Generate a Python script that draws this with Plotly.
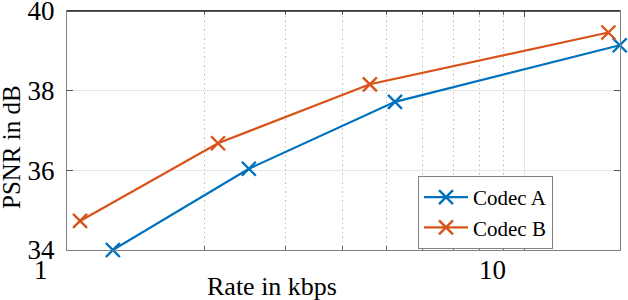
import math
import plotly.graph_objects as go

# ---- data ----
series_names = ["Codec A", "Codec B"]
codec_a_rate = [1.26, 2.50, 5.22, 16.2]
codec_a_psnr = [34.0, 36.04, 37.72, 39.14]
codec_b_rate = [1.068, 2.14, 4.60, 15.3]
codec_b_psnr = [34.73, 36.68, 38.16, 39.46]
y_ticks = [34, 36, 38, 40]
x_major_ticks = [1, 10]
x_minor_ticks = [2, 3, 4, 5, 6, 7, 8, 9]
x_tick_labels = ["1", "10"]
x_title = "Rate in kbps"
y_title = "PSNR in dB"

colors = ["#0072BD", "#D95319"]
FONT = "Liberation Serif"

fig = go.Figure()
for name, xs, ys, c in [(series_names[0], codec_a_rate, codec_a_psnr, colors[0]),
                        (series_names[1], codec_b_rate, codec_b_psnr, colors[1])]:
    fig.add_trace(go.Scatter(
        x=xs, y=ys, name=name, mode="lines+markers",
        line=dict(color=c, width=2.2),
        marker=dict(symbol="x-thin", size=14, line=dict(color=c, width=2.4)),
        cliponaxis=False,
    ))

W, H = 628, 300
L, R, T, B = 67, 8, 11, 50
pw, ph = W - L - R, H - T - B

fig.update_layout(
    width=W, height=H,
    margin=dict(l=L, r=R, t=T, b=B, autoexpand=False),
    paper_bgcolor="white", plot_bgcolor="white",
    font=dict(family=FONT, size=26, color="black"),
    showlegend=True,
    legend=dict(
        x=(418 - L) / pw, y=(H - B - 176) / ph, xanchor="left", yanchor="top",
        bordercolor="#808080", borderwidth=1, bgcolor="white",
        font=dict(family=FONT, size=21, color="black"),
        itemwidth=44, tracegroupgap=0,
    ),
)

fig.update_xaxes(
    type="log", range=[0, (620 - L) / 457.0], automargin=False,
    tickvals=x_major_ticks, showticklabels=False,
    ticks="inside", ticklen=6, tickcolor="#555555",
    showline=True, linecolor="#808080", linewidth=1.3, mirror="ticks",
    showgrid=True, gridcolor="#e6e6e6", gridwidth=1,
    zeroline=False,
    minor=dict(tickvals=x_minor_ticks, ticks="inside", ticklen=4, tickcolor="#666666",
               showgrid=True, gridcolor="#c4c4c4", griddash="1.5px,3px", gridwidth=1),
)
fig.update_yaxes(
    range=[34, 40], tickvals=y_ticks, automargin=False,
    ticks="inside", ticklen=6, tickcolor="#555555",
    showline=True, linecolor="#808080", linewidth=1.3, mirror="ticks",
    showgrid=True, gridcolor="#e6e6e6", gridwidth=1,
    zeroline=False,
    tickfont=dict(family=FONT, size=27, color="black"),
    ticklabelstandoff=6, ticklabeloverflow="allow",
)

# top border darker (as in reference)
fig.add_shape(type="line", xref="paper", yref="paper", x0=0, x1=1, y0=1, y1=1,
              line=dict(color="#262626", width=1.3))

# x tick labels (offset as in the reference)
shifts = [-26, -32]
for v, txt, s in zip(x_major_ticks, x_tick_labels, shifts):
    fig.add_annotation(x=math.log10(v), xref="x", y=0, yref="paper",
                       text=txt, showarrow=False, xshift=s, yshift=-20,
                       xanchor="center", yanchor="middle",
                       font=dict(family=FONT, size=27, color="black"))

fig.add_annotation(x=(272 - L) / pw, xref="paper", y=0, yref="paper",
                   text=x_title, showarrow=False, yshift=-36,
                   xanchor="center", yanchor="middle",
                   font=dict(family=FONT, size=26, color="black"))
fig.add_annotation(x=(12 - L) / pw, xref="paper", y=(H - B - 147) / ph, yref="paper",
                   text=y_title, showarrow=False, textangle=-90,
                   xanchor="center", yanchor="middle",
                   font=dict(family=FONT, size=25, color="black"))

fig.write_html(
    "out.html",
    config={"displayModeBar": False},
    post_script="document.body.style.margin='0';document.body.style.padding='0';",
)
